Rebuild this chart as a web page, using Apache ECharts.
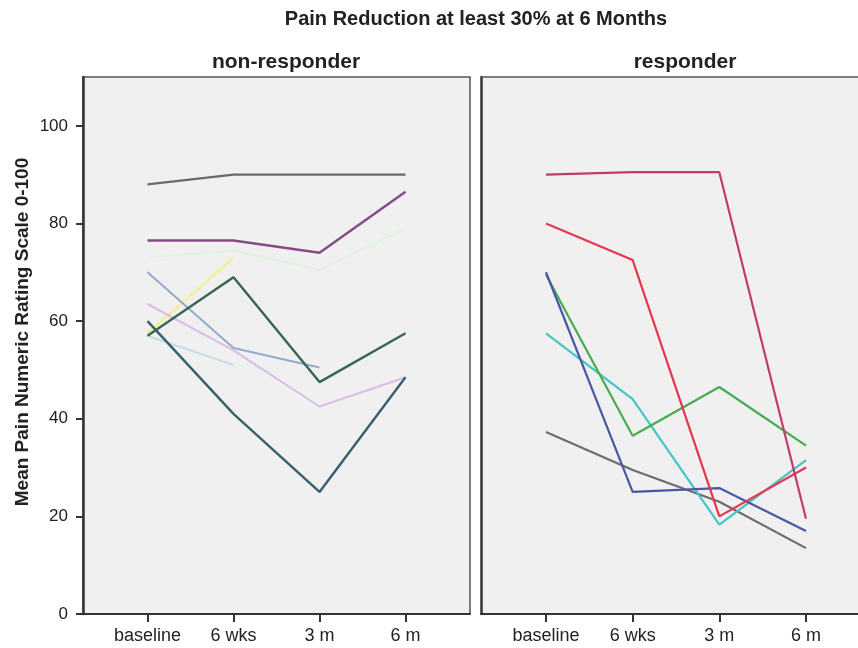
<!DOCTYPE html>
<html>
<head>
<meta charset="utf-8">
<script src="https://cdn.jsdelivr.net/npm/echarts@6/dist/echarts.min.js"></script>
<style>
html,body{margin:0;padding:0;background:#fff;}
#chart{width:858px;height:648px;}
</style>
</head>
<body>
<div id="chart"></div>
<script>
const categories = ['baseline', '6 wks', '3 m', '6 m'];
const yTicks = [0, 20, 40, 60, 80, 100];
const panelTitles = ['non-responder', 'responder'];

// non-responder (left panel)
const nrGray     = [88, 90, 90, 90];
const nrPurple   = [76.5, 76.5, 74, 86.5];
const nrPaleGrn  = [73, 74.5, 70.5, 79];
const nrYellow   = [57.5, 73, null, null];
const nrLtBlue   = [70, 54.5, 50.5, null];
const nrLavender = [63.5, 54, 42.5, 48.5];
const nrDkGreen  = [57, 69, 47.5, 57.5];
const nrSlate    = [60, 41, 25, 48.5];
const nrPaleCyan = [57, 51, null, null];

// responder (right panel)
const rMagenta = [90, 90.5, 90.5, 19.5];
const rRed     = [80, 72.5, 20, 30];
const rNavy    = [70, 25, 25.8, 17];
const rGreen   = [69.5, 36.5, 46.5, 34.5];
const rCyan    = [57.5, 44, 18.3, 31.5];
const rGray    = [37.3, 29.5, 23, 13.5];

const leftSeries = [
  {d: nrPaleGrn, c: '#dff3da', w: 2},
  {d: nrPaleCyan, c: '#c6dde6', w: 2},
  {d: nrYellow, c: '#f3f08a', w: 2},
  {d: nrLavender, c: '#d9bde8', w: 2},
  {d: nrLtBlue, c: '#93aacb', w: 2},
  {d: nrGray, c: '#6a6a6a', w: 2.4},
  {d: nrPurple, c: '#874a85', w: 2.4},
  {d: nrDkGreen, c: '#37654e', w: 2.4},
  {d: nrSlate, c: '#395f6c', w: 2.4}
];
const rightSeries = [
  {d: rGray, c: '#6c6c6c', w: 2.2},
  {d: rCyan, c: '#45c6c2', w: 2.2},
  {d: rGreen, c: '#45ad4e', w: 2.2},
  {d: rNavy, c: '#4858a4', w: 2.2},
  {d: rRed, c: '#e5374f', w: 2.2},
  {d: rMagenta, c: '#c23a72', w: 2.2}
];

const FONT = 'Liberation Sans, Arial, sans-serif';

function toPts(arr) { return arr.map((v, i) => [i, v]); }

function xAxisCfg(gi, maxV) {
  return {
    type: 'value', gridIndex: gi, min: -0.75, max: maxV,
    axisLine: {show: true, onZero: false, lineStyle: {color: '#333', width: 2}},
    axisTick: {show: true, customValues: [0, 1, 2, 3], length: 8, lineStyle: {color: '#333', width: 2}},
    axisLabel: {show: true, customValues: [0, 1, 2, 3], margin: 13,
      formatter: v => categories[Math.round(v)] || '',
      color: '#222', fontSize: 18, fontFamily: FONT},
    splitLine: {show: false}
  };
}
function topAxisCfg(gi, maxV) {
  return {
    type: 'value', gridIndex: gi, min: -0.75, max: maxV, position: 'top',
    axisLine: {show: true, onZero: false, lineStyle: {color: '#555', width: 1.5}},
    axisTick: {show: false}, axisLabel: {show: false}, splitLine: {show: false}
  };
}
function yAxisCfg(gi, labels) {
  return {
    type: 'value', gridIndex: gi, min: 0, max: 110,
    axisLine: {show: true, onZero: false, lineStyle: {color: '#333', width: 2.5}},
    axisTick: {show: labels, customValues: yTicks, length: 7, lineStyle: {color: '#333', width: 2}},
    axisLabel: {show: labels, customValues: yTicks, margin: 15, color: '#222', fontSize: 17, fontFamily: FONT},
    splitLine: {show: false}
  };
}

const series = [];
leftSeries.forEach(s => series.push({
  type: 'line', xAxisIndex: 0, yAxisIndex: 0, data: toPts(s.d),
  showSymbol: false, connectNulls: false, silent: true,
  lineStyle: {color: s.c, width: s.w}, itemStyle: {color: s.c}
}));
rightSeries.forEach(s => series.push({
  type: 'line', xAxisIndex: 1, yAxisIndex: 1, data: toPts(s.d),
  showSymbol: false, connectNulls: false, silent: true,
  lineStyle: {color: s.c, width: s.w}, itemStyle: {color: s.c}
}));

const chart = echarts.init(document.getElementById('chart'), null, {renderer: 'canvas'});
chart.setOption({
  backgroundColor: '#ffffff',
  animation: false,
  title: [
    {text: 'Pain Reduction at least 30% at 6 Months', left: 471, top: 4, textAlign: 'center',
      textStyle: {fontSize: 20, fontWeight: 'bold', color: '#222', fontFamily: FONT}},
    {text: panelTitles[0], left: 281, top: 47, textAlign: 'center',
      textStyle: {fontSize: 21, fontWeight: 'bold', color: '#222', fontFamily: FONT}},
    {text: panelTitles[1], left: 680, top: 47, textAlign: 'center',
      textStyle: {fontSize: 21, fontWeight: 'bold', color: '#222', fontFamily: FONT}}
  ],
  graphic: [{
    type: 'text', x: 23, y: 332, rotation: Math.PI / 2,
    style: {text: 'Mean Pain Numeric Rating Scale 0-100', align: 'center', verticalAlign: 'middle',
      fontSize: 19, fontWeight: 'bold', fill: '#222', fontFamily: FONT}
  }],
  grid: [
    {left: 83, top: 77, width: 387, bottom: 34, show: true, backgroundColor: '#f0f0f0', borderColor: '#555', borderWidth: 1.5},
    {left: 481, top: 77, width: 377, bottom: 34, show: true, backgroundColor: '#f0f0f0', borderWidth: 0}
  ],
  xAxis: [xAxisCfg(0, 3.75), xAxisCfg(1, 3.6), topAxisCfg(1, 3.6)],
  yAxis: [yAxisCfg(0, true), yAxisCfg(1, false)],
  series: series
});
</script>
</body>
</html>
